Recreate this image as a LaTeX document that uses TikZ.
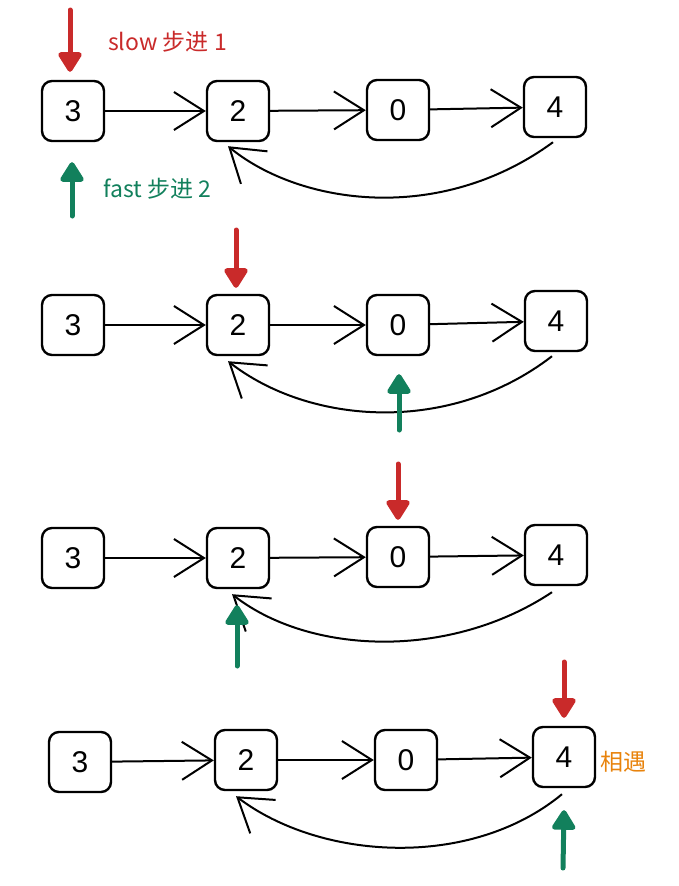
\documentclass[tikz,border=0pt]{standalone}
\usepackage{fontspec}
\setmainfont{Liberation Sans}
\newfontfamily\cjk{Noto Sans CJK SC}
\usetikzlibrary{arrows.meta,calc}
\definecolor{slowred}{HTML}{C92A2A}
\definecolor{fastgreen}{HTML}{12805C}
\definecolor{meetorange}{HTML}{E8830C}
\tikzset{
  listnode/.style={draw=black, line width=2.4pt, rounded corners=10pt, minimum width=62pt, minimum height=60pt, inner sep=0pt, font=\fontsize{30}{30}\selectfont},
  link/.style={line width=2pt, -{Straight Barb[length=30pt,width=38pt,line width=2pt]}},
  back/.style={line width=2pt, -{Straight Barb[length=32pt,width=42pt,line width=2pt]}},
  slowptr/.style={slowred, line width=5pt, line cap=round, -{Triangle[length=22pt,width=26pt,round]}},
  fastptr/.style={fastgreen, line width=5pt, line cap=round, -{Triangle[length=22pt,width=26pt,round]}},
  lbl/.style={font=\cjk\fontsize{23}{23}\selectfont, anchor=west, inner sep=0pt}
}
\begin{document}
\begin{tikzpicture}[x=1pt,y=-1pt]
\useasboundingbox (0,0) rectangle (678,886);
% ---------- row 1
\node[listnode] (a3) at (73,111) {3};
\node[listnode] (a2) at (238,111) {2};
\node[listnode] (a0) at (398,110) {0};
\node[listnode] (a4) at (555,107) {4};
\draw[link] (a3) -- (a2);
\draw[link] (a2) -- (a0);
\draw[link] (a0) -- (a4);
\draw[back] ($(a4.south)+(-2,4)$) .. controls (440,225) and (300,205) .. ($(a2.south)+(-10,4)$);
\coordinate (a3top) at (70,10);
\coordinate (a3bot) at (72,216);
\draw[slowptr] (a3top) -- ($(a3.north)+(-3,-8)$);
\draw[fastptr] (a3bot) -- ($(a3.south)+(-1,20)$);
\node[lbl, text=slowred] (slowlbl) at (108,42) {slow 步进 1};
\node[lbl, text=fastgreen] (fastlbl) at (103,189) {fast 步进 2};
% ---------- row 2
\node[listnode] (b3) at (73,325) {3};
\node[listnode] (b2) at (238,325) {2};
\node[listnode] (b0) at (398,325) {0};
\node[listnode] (b4) at (556,321) {4};
\draw[link] (b3) -- (b2);
\draw[link] (b2) -- (b0);
\draw[link] (b0) -- (b4);
\draw[back] ($(b4.south)+(-4,4)$) .. controls (450,435) and (310,425) .. ($(b2.south)+(-10,5)$);
\coordinate (b2top) at (236,230);
\coordinate (b0bot) at (399,430);
\draw[slowptr] (b2top) -- ($(b2.north)+(-2,-6)$);
\draw[fastptr] (b0bot) -- ($(b0.south)+(1,18)$);
% ---------- row 3
\node[listnode] (c3) at (73,558) {3};
\node[listnode] (c2) at (238,558) {2};
\node[listnode] (c0) at (398,557) {0};
\node[listnode] (c4) at (556,555) {4};
\draw[link] (c3) -- (c2);
\draw[link] (c2) -- (c0);
\draw[link] (c0) -- (c4);
\draw[back] ($(c4.south)+(-4,6)$) .. controls (450,660) and (310,655) .. ($(c2.south)+(-6,5)$);
\coordinate (c0top) at (398,464);
\coordinate (c2bot) at (237,666);
\draw[slowptr] (c0top) -- ($(c0.north)+(0,-6)$);
\draw[fastptr] (c2bot) -- ($(c2.south)+(-1,16)$);
% ---------- row 4
\node[listnode] (d3) at (80,762) {3};
\node[listnode] (d2) at (246,760) {2};
\node[listnode] (d0) at (406,760) {0};
\node[listnode] (d4) at (564,757) {4};
\draw[link] (d3) -- (d2);
\draw[link] (d2) -- (d0);
\draw[link] (d0) -- (d4);
\draw[back] ($(d4.south)+(-2,6)$) .. controls (470,870) and (320,860) .. ($(d2.south)+(-10,5)$);
\coordinate (d4top) at (564,662);
\coordinate (d4bot) at (563,868);
\draw[slowptr] (d4top) -- ($(d4.north)+(0,-8)$);
\draw[fastptr] (d4bot) -- ($(d4.south)+(0,22)$);
\node[lbl, text=meetorange] (meetlbl) at (600,762) {相遇};
\end{tikzpicture}
\end{document}
